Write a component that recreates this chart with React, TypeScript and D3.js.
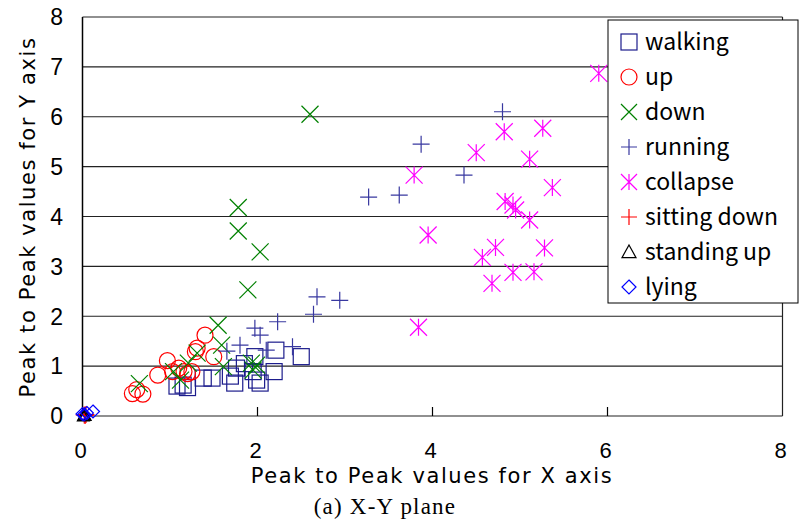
import React from "react";
import * as d3 from "d3";

// values: [peak-to-peak X, peak-to-peak Y]
const walking: [number, number][] = [
  [1.08, 0.6], [1.2, 0.57], [1.38, 0.76], [1.48, 0.76], [1.69, 0.8], [1.74, 0.66],
  [1.76, 0.96], [1.97, 1.19], [1.99, 0.72], [2.03, 0.66], [2.19, 0.89], [2.21, 1.32],
  [2.5, 1.19], [1.95, 0.89], [1.15, 0.62], [1.85, 1.05],
];
const up: [number, number][] = [
  [0.62, 0.53], [0.69, 0.44], [0.57, 0.45], [0.86, 0.82], [0.97, 1.11], [1.03, 0.89],
  [1.1, 0.96], [1.16, 0.89], [1.25, 0.89], [1.29, 1.29], [1.31, 1.36], [1.4, 1.62],
  [1.5, 1.19], [1.2, 0.85],
];
const down: [number, number][] = [
  [0.65, 0.65], [1.04, 0.89], [1.12, 0.72], [1.21, 1.06], [1.31, 1.26], [1.55, 1.82],
  [1.59, 1.42], [1.61, 0.99], [1.93, 1.06], [1.99, 1.02], [1.95, 0.92],
  [2.6, 6.05], [1.78, 4.18], [1.78, 3.71], [2.03, 3.29], [1.89, 2.53],
];
const running: [number, number][] = [
  [4.8, 6.1], [3.87, 5.45], [4.36, 4.83], [3.27, 4.39], [3.62, 4.43], [2.68, 2.39],
  [2.94, 2.32], [2.64, 2.04], [2.23, 1.89], [1.97, 1.76], [2.03, 1.62], [1.8, 1.42],
  [2.1, 1.32], [2.4, 1.39], [1.65, 1.3],
];
const collapse: [number, number][] = [
  [5.9, 6.87], [4.82, 5.7], [5.26, 5.77], [4.5, 5.28], [5.11, 5.15], [3.79, 4.83],
  [5.37, 4.58], [4.83, 4.3], [4.92, 4.23], [4.95, 4.13], [5.11, 3.93], [3.95, 3.63],
  [4.72, 3.38], [5.28, 3.37], [4.57, 3.18], [4.92, 2.88], [5.16, 2.89], [4.68, 2.66],
  [3.84, 1.78],
];
const sittingDown: [number, number][] = [[0.02, 0.02], [0.04, 0.03], [0.03, 0.01]];
const standingUp: [number, number][] = [[0.01, 0.0], [0.03, 0.01], [0.02, 0.02]];
const lying: [number, number][] = [[0.02, 0.03], [0.05, 0.06], [0.12, 0.09], [0.0, 0.04]];

const xTicks = [0, 2, 4, 6, 8];
const yTicks = [0, 1, 2, 3, 4, 5, 6, 7, 8];

const series = [
  { name: "walking", data: walking, shape: "square", color: "#1c1c8c" },
  { name: "up", data: up, shape: "circle", color: "#ff0000" },
  { name: "down", data: down, shape: "cross", color: "#008000" },
  { name: "running", data: running, shape: "plus", color: "#3838a0" },
  { name: "collapse", data: collapse, shape: "star", color: "#ff00ff" },
  { name: "sitting down", data: sittingDown, shape: "plus", color: "#ff0000" },
  { name: "standing up", data: standingUp, shape: "triangle", color: "#000000" },
  { name: "lying", data: lying, shape: "diamond", color: "#0000ff" },
];

const margin = { left: 82.5, top: 17, right: 782.5, bottom: 416 };
const x = d3.scaleLinear().domain([0, 8]).range([margin.left, margin.right]);
const y = d3.scaleLinear().domain([0, 8]).range([margin.bottom, margin.top]);

function Marker({ shape, color, cx, cy, s }: any) {
  const h = s / 2;
  const common = { fill: "none", stroke: color, strokeWidth: 1.2 };
  if (shape === "square") return <rect x={cx - h} y={cy - h} width={s} height={s} {...common} />;
  if (shape === "circle") return <circle cx={cx} cy={cy} r={h} {...common} />;
  if (shape === "cross")
    return <path d={`M${cx - h},${cy - h}L${cx + h},${cy + h}M${cx - h},${cy + h}L${cx + h},${cy - h}`} {...common} />;
  if (shape === "plus")
    return <path d={`M${cx - h},${cy}L${cx + h},${cy}M${cx},${cy - h}L${cx},${cy + h}`} {...common} />;
  if (shape === "star")
    return (
      <path
        d={`M${cx - h},${cy - h}L${cx + h},${cy + h}M${cx - h},${cy + h}L${cx + h},${cy - h}M${cx},${cy - h}L${cx},${cy + h}`}
        {...common}
      />
    );
  if (shape === "triangle")
    return <path d={`M${cx},${cy - h}L${cx + h},${cy + h * 0.8}L${cx - h},${cy + h * 0.8}Z`} {...common} />;
  return <path d={`M${cx},${cy - h}L${cx + h},${cy}L${cx},${cy + h}L${cx - h},${cy}Z`} {...common} />;
}

export default function App() {
  const sizes: any = { square: 16, circle: 16, cross: 17, plus: 17, star: 17, triangle: 12, diamond: 13 };
  return (
    <svg width={805} height={529} style={{ position: "absolute", left: 0, top: 0, background: "#fff" }}>
      <rect width={805} height={529} fill="#fff" />
      {yTicks.map((t) => (
        <line key={t} x1={margin.left} x2={margin.right} y1={y(t)} y2={y(t)} stroke="#222" strokeWidth={1.2} />
      ))}
      <line x1={margin.left} x2={margin.left} y1={margin.top} y2={margin.bottom} stroke="#000" strokeWidth={1.5} />
      <line x1={margin.right} x2={margin.right} y1={margin.top} y2={margin.bottom} stroke="#222" strokeWidth={1.2} />
      {xTicks.slice(1, -1).map((t) => (
        <line key={t} x1={x(t)} x2={x(t)} y1={margin.bottom} y2={margin.bottom - 9} stroke="#000" strokeWidth={1.2} />
      ))}
      {yTicks.map((t) => (
        <text key={t} x={63} y={y(t)} dy="0.36em" textAnchor="end" fontFamily="Liberation Sans, Arial" fontSize={23}>
          {t}
        </text>
      ))}
      {xTicks.map((t) => (
        <text key={t} x={x(t) - 2} y={458} textAnchor="middle" fontFamily="Liberation Sans, Arial" fontSize={22}>
          {t}
        </text>
      ))}
      <text x={432} y={483} textAnchor="middle" fontFamily="DejaVu Sans" fontSize={21} letterSpacing={1.6}>
        Peak to Peak values for X axis
      </text>
      <text
        transform="translate(35,217) rotate(-90)"
        textAnchor="middle"
        fontFamily="DejaVu Sans"
        fontSize={21}
        letterSpacing={1.6}
      >
        Peak to Peak values for Y axis
      </text>
      <text x={385} y={514} textAnchor="middle" fontFamily="Liberation Serif, Times New Roman" fontSize={23} letterSpacing={1.2}>
        (a) X-Y plane
      </text>
      {series.map((s) =>
        s.data.map((d, i) => (
          <Marker key={s.name + i} shape={s.shape} color={s.color} cx={x(d[0])} cy={y(d[1])} s={sizes[s.shape]} />
        ))
      )}
      <rect x={608} y={20} width={190} height={283} fill="#fff" stroke="#000" strokeWidth={1} />
      {series.map((s, i) => (
        <g key={s.name}>
          <Marker shape={s.shape} color={s.color} cx={629} cy={42 + i * 35} s={s.shape === "triangle" || s.shape === "diamond" ? 14 : 16} />
          <text x={645} y={42 + i * 35} dy="0.36em" fontFamily="Noto Sans CJK JP, Noto Sans" fontSize={23}>
            {s.name}
          </text>
        </g>
      ))}
    </svg>
  );
}
